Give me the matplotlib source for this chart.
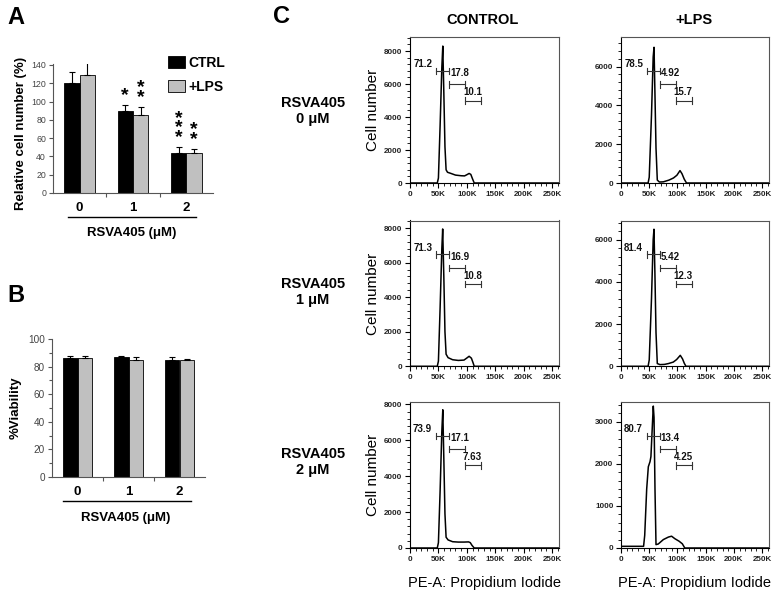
import numpy as np
import matplotlib.pyplot as plt
from matplotlib.patches import Patch
from matplotlib.ticker import MultipleLocator

plt.rcParams['font.family'] = ['Liberation Sans', 'DejaVu Sans']

# ---- data: panel A / B bars
doses = ['0', '1', '2']
cells_ctrl = [120, 90, 44]
cells_ctrl_err = [12, 6, 6]
cells_lps = [129, 85, 44]
cells_lps_err = [16, 9, 4]
stars_ctrl = [0, 1, 3]
stars_lps = [0, 2, 2]

viab_ctrl = [86, 87, 85]
viab_ctrl_err = [1.5, 0.5, 2]
viab_lps = [86, 85, 85]
viab_lps_err = [2, 2, 0.5]

# ---- data: panel C histograms (PE-A in K, cell counts)
c0_x = [0, 48, 50, 53, 56, 57.7, 59.5, 61.5, 63.5, 66, 72, 80, 90, 96, 101, 104, 107, 110, 113, 262]
c0_y = [0, 0, 300, 3500, 7000, 8300, 5500, 2200, 800, 650, 580, 480, 440, 430, 520, 580, 520, 250, 0, 0]
l0_x = [0, 48, 50, 54, 57, 58.5, 60, 62, 64.3, 68, 75, 85, 93, 99, 104.5, 108, 112, 116, 262]
l0_y = [0, 0, 300, 3500, 6500, 7000, 4800, 1800, 150, 50, 60, 150, 260, 400, 640, 480, 200, 0, 0]
c1_x = [0, 48, 50, 53, 56, 57.5, 59.5, 61.5, 63.5, 67, 75, 85, 95, 100, 104, 108, 111, 113, 262]
c1_y = [0, 0, 300, 3400, 6800, 7950, 5200, 2000, 700, 500, 380, 340, 360, 480, 580, 470, 200, 0, 0]
l1_x = [0, 48, 50, 54, 57, 58.4, 60, 62, 64.3, 69, 77, 84, 92.6, 98.5, 105, 109, 112, 115, 262]
l1_y = [0, 0, 300, 3200, 6000, 6500, 4500, 1600, 130, 80, 90, 130, 200, 320, 520, 350, 150, 0, 0]
c2_x = [0, 48, 50, 53, 56, 57.7, 59.5, 61.5, 63.5, 67, 75, 85, 95, 103, 106, 109, 113, 262]
c2_y = [0, 0, 300, 3200, 6500, 7700, 5000, 1900, 600, 450, 350, 330, 330, 340, 300, 150, 0, 0]
l2_x = [0, 40, 42, 45.5, 48.4, 51.4, 53, 56, 57.2, 58.5, 60.2, 62, 66, 75, 84, 89.6, 95.5, 103, 108.6, 113, 262]
l2_y = [40, 40, 300, 1400, 1930, 2050, 2170, 3040, 3370, 3100, 1400, 80, 95, 200, 260, 280, 220, 160, 100, 0, 0]

gate_edges = [46, 69, 97, 125]  # K
gate_text = [['71.2', '17.8', '10.1'], ['78.5', '4.92', '15.7'],
             ['71.3', '16.9', '10.8'], ['81.4', '5.42', '12.3'],
             ['73.9', '17.1', '7.63'], ['80.7', '13.4', '4.25']]
ymaxes = [8850, 7530, 8440, 6913, 8150, 3474]
ysteps = [2000, 2000, 2000, 2000, 2000, 1000]
row_names = ['RSVA405\n0 \u03bcM', 'RSVA405\n1 \u03bcM', 'RSVA405\n2 \u03bcM']

W, H = 779, 597
fig = plt.figure(figsize=(W / 100, H / 100), dpi=100)


def px_axes(l, t, r, b):
    return fig.add_axes([l / W, 1 - b / H, (r - l) / W, (b - t) / H])


def bar_panel(ax, ctrl, ctrl_err, lps, lps_err, ymax, ystep, tick_fs, ylab, lab_x,
              line_y, text_y, text_x, line_x):
    pos = np.arange(len(doses))
    w = 0.29
    ax.bar(pos - w / 2, ctrl, w, color='black', edgecolor='black', lw=0.6,
           yerr=[np.zeros(3), ctrl_err], capsize=2.5, error_kw=dict(lw=0.8, capthick=0.8))
    ax.bar(pos + w / 2, lps, w, color='#c0c0c0', edgecolor='black', lw=0.6,
           yerr=[np.zeros(3), lps_err], capsize=2.5, error_kw=dict(lw=0.8, capthick=0.8))
    ax.set_xlim(-0.5, 2.5)
    ax.set_ylim(0, ymax)
    ax.yaxis.set_major_locator(MultipleLocator(ystep))
    for s in ['top', 'right']:
        ax.spines[s].set_visible(False)
    for s in ['left', 'bottom']:
        ax.spines[s].set_color('#555')
        ax.spines[s].set_linewidth(0.8)
    ax.tick_params(axis='y', labelsize=tick_fs, labelcolor='#444', color='#555',
                   length=3, width=0.8, pad=2)
    ax.set_xticks(pos)
    ax.set_xticklabels(doses, fontsize=9.5, fontweight='bold')
    ax.tick_params(axis='x', length=0, pad=6.5)
    ax.set_xticks([0.5, 1.5], minor=True)
    ax.tick_params(axis='x', which='minor', length=3, width=0.8, color='#555')
    ax.set_ylabel(ylab, fontsize=9.5, fontweight='bold')
    ax.yaxis.set_label_coords(lab_x, 0.5)
    tr = ax.get_xaxis_transform()
    ax.plot(line_x, [line_y, line_y], transform=tr, color='black', lw=1.0, clip_on=False)
    ax.text(text_x, text_y, 'RSVA405 (\u03bcM)', transform=tr, ha='center', va='center',
            fontsize=9.5, fontweight='bold')
    return pos, w


# ---- Panel A
axA = px_axes(53, 64, 213, 193)
pos, w = bar_panel(axA, cells_ctrl, cells_ctrl_err, cells_lps, cells_lps_err, 141, 20, 6.3,
                   'Relative cell number (%)', -0.165, -0.186, -0.31, 0.97, [-0.22, 2.18])
axA.yaxis.set_label_coords(-0.165, 0.46)
for i in range(3):
    for vals, errs, nst, off in [(cells_ctrl, cells_ctrl_err, stars_ctrl, -w / 2),
                                 (cells_lps, cells_lps_err, stars_lps, w / 2)]:
        if nst[i] == 0:
            continue
        top = vals[i] + errs[i]
        axA.annotate('\n'.join(['*'] * nst[i]), xy=(pos[i] + off, top), xytext=(0, 1),
                     textcoords='offset points', ha='center', va='bottom',
                     fontsize=14, fontweight='bold', linespacing=0.42)
axA.legend(handles=[Patch(facecolor='black', edgecolor='black', lw=0.6),
                    Patch(facecolor='#c0c0c0', edgecolor='black', lw=0.6)],
           labels=['CTRL', '+LPS'], loc='upper left', bbox_to_anchor=(0.72, 1.06),
           frameon=False, handlelength=1.2, handleheight=0.95, handletextpad=0.25,
           labelspacing=0.7, borderpad=0, borderaxespad=0,
           prop={'size': 10, 'weight': 'bold'})

# ---- Panel B
axB = px_axes(52, 339, 205, 477)
bar_panel(axB, viab_ctrl, viab_ctrl_err, viab_lps, viab_lps_err, 100, 20, 7.2,
          '%Viability', -0.196, -0.174, -0.297, 0.95, [-0.29, 2.23])
axB.yaxis.set_minor_locator(MultipleLocator(10))
axB.tick_params(axis='y', which='minor', length=2, width=0.8, color='#555')

# ---- Panel C
hist_x = [c0_x, l0_x, c1_x, l1_x, c2_x, l2_x]
hist_y = [c0_y, l0_y, c1_y, l1_y, c2_y, l2_y]
col_lr = [(410, 559), (621, 769)]
row_tb = [(37, 183), (220.5, 366.3), (401.7, 548)]
gate_y = [0.767, 0.675, 0.565]
for r in range(3):
    for c in range(2):
        n = r * 2 + c
        l, rr = col_lr[c]
        t, b = row_tb[r]
        ax = px_axes(l, t, rr, b)
        ax.plot(np.array(hist_x[n]) * 1000, hist_y[n], color='black', lw=1.1)
        ax.set_xlim(0, 262144)
        ax.set_ylim(0, ymaxes[n])
        ax.set_xticks([0, 50000, 100000, 150000, 200000, 250000])
        ax.set_xticklabels(['0', '50K', '100K', '150K', '200K', '250K'])
        ax.xaxis.set_minor_locator(MultipleLocator(10000))
        ax.yaxis.set_major_locator(MultipleLocator(ysteps[n]))
        ax.yaxis.set_minor_locator(MultipleLocator(ysteps[n] / 5))
        for lab in ax.get_xticklabels() + ax.get_yticklabels():
            lab.set_fontweight('bold')
        ax.tick_params(which='major', labelsize=5.8, length=3.5, width=0.8, pad=2,
                       labelcolor='#222')
        ax.tick_params(which='minor', length=2, width=0.6)
        for s in ['top', 'right']:
            ax.spines[s].set_color('#555')
        for s in ax.spines.values():
            s.set_linewidth(0.8)
        # gates
        tr = ax.get_xaxis_transform()
        for g in range(3):
            x0 = gate_edges[g] * 1000
            x1 = gate_edges[g + 1] * 1000
            gy = gate_y[g]
            ax.plot([x0, x1], [gy, gy], transform=tr, color='#333', lw=0.8)
            for xe in (x0, x1):
                ax.plot([xe, xe], [gy - 0.022, gy + 0.022], transform=tr, color='#333', lw=0.8)
        txt = gate_text[n]
        ax.text(39000, gate_y[0] + 0.045, txt[0], transform=tr, ha='right', va='center',
                fontsize=7, fontweight='bold', color='#111')
        ax.text(gate_edges[1] * 1000 + 1500, gate_y[0] - 0.015, txt[1], transform=tr,
                ha='left', va='center', fontsize=7, fontweight='bold', color='#111')
        ax.text(110000, gate_y[2] + 0.055, txt[2], transform=tr, ha='center', va='center',
                fontsize=7, fontweight='bold', color='#111')
        if c == 0:
            ax.set_ylabel('Cell number', fontsize=11)
            ax.yaxis.set_label_coords(-0.2, 0.5)
        if r == 2:
            ax.set_xlabel('PE-A: Propidium Iodide', fontsize=10.5)
            ax.xaxis.set_label_coords(0.5, -0.19)

for r, name in enumerate(row_names):
    yc = [111, 292, 462][r]
    fig.text(313 / W, 1 - yc / H, name, ha='center', va='center', fontsize=10.5,
             fontweight='bold', linespacing=1.1)

fig.text(483 / W, 1 - 20 / H, 'CONTROL', ha='center', va='center', fontsize=10.5, fontweight='bold')
fig.text(694 / W, 1 - 20 / H, '+LPS', ha='center', va='center', fontsize=10.5, fontweight='bold')

for lab, (x, y) in zip(['A', 'B', 'C'], [(16, 17.5), (16, 296), (282, 16.5)]):
    fig.text(x / W, 1 - y / H, lab, ha='center', va='center', fontsize=17, fontweight='bold')

fig.savefig('out.png', dpi=100)
